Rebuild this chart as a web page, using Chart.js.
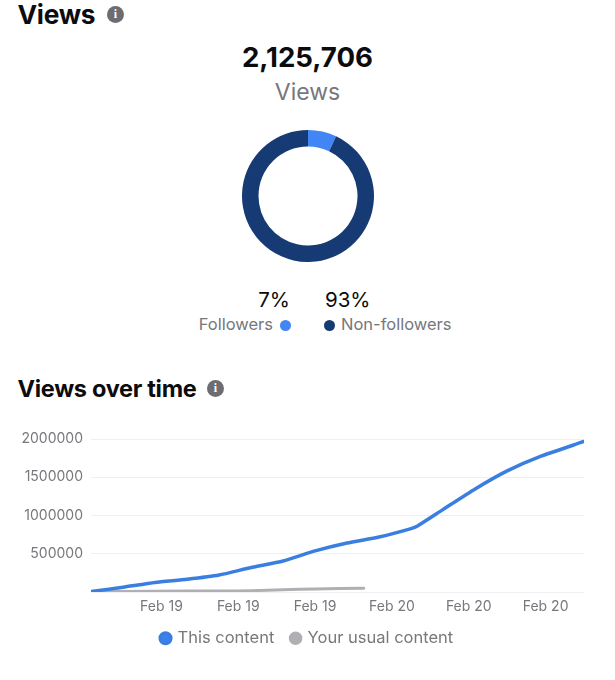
<!DOCTYPE html>
<html>
<head>
<meta charset="utf-8">
<script src="https://cdn.jsdelivr.net/npm/chart.js@4"></script>
<style>
html,body{margin:0;padding:0;background:#fff;width:615px;height:680px;overflow:hidden;font-family:Inter,"Noto Sans",sans-serif}
.t{position:absolute;white-space:nowrap;line-height:1}
.title{font-weight:700;color:#0c0c0e;letter-spacing:-.3px}
.grey{color:#77777c}
.info{position:absolute;width:17px;height:17px;border-radius:50%;background:#6d6d71;color:#fff;font:700 12px/17px "Liberation Serif",serif;text-align:center}
.dot{position:absolute;width:11px;height:11px;border-radius:50%}
canvas{position:absolute}
</style>
</head>
<body>
<div class="t title" style="left:17.5px;top:2px;font-size:26.3px">Views</div>
<div class="info" style="left:107px;top:6px">i</div>
<div class="t" style="left:0;width:615px;text-align:center;top:44px;font-size:27.6px;font-weight:700;color:#0c0c0e">2,125,706</div>
<div class="t grey" style="left:0;width:615px;text-align:center;top:81px;font-size:23px">Views</div>

<canvas id="donut" width="132" height="132" style="left:241.5px;top:130px;width:132px;height:132px"></canvas>

<div class="t" style="right:325px;top:290px;font-size:20.5px;color:#0c0c0e">7%</div>
<div class="t" style="left:325px;top:290px;font-size:20.5px;color:#0c0c0e">93%</div>
<div class="t grey" style="right:342px;top:316px;font-size:16.5px">Followers</div>
<div class="dot" style="left:280px;top:320px;background:#4285f4"></div>
<div class="dot" style="left:324px;top:320px;background:#163a74"></div>
<div class="t grey" style="left:341px;top:316px;font-size:16.5px">Non-followers</div>

<div class="t title" style="left:17.5px;top:377px;font-size:23.5px">Views over time</div>
<div class="info" style="left:207px;top:380px">i</div>

<canvas id="line" width="615" height="250" style="left:0;top:420px;width:615px;height:250px"></canvas>

<script>
const shareLabels = ["Followers", "Non-followers"];
const shareValues = [7, 93];
const shareColors = ["#4285f4", "#163a74"];

const hoursThis = [0, 5, 10, 15, 20, 25, 30, 35, 40, 45, 50, 51, 55, 60, 65, 70, 77];
const thisContent = [5000, 62000, 124000, 166000, 222000, 320000, 405000, 537000, 640000, 720000, 829000, 864000, 1080000, 1348000, 1584000, 1767000, 1967000];
const hoursUsual = [0, 10, 20, 25, 30, 35, 42.6];
const usualContent = [3000, 10000, 13000, 17000, 30000, 40000, 48000];
const tickHours = [11, 23, 35, 47, 59, 71];
const tickLabels = ["Feb 19", "Feb 19", "Feb 19", "Feb 20", "Feb 20", "Feb 20"];
const seriesNames = ["This content", "Your usual content"];
const font = "Inter";

new Chart(document.getElementById("donut"), {
  type: "doughnut",
  data: { labels: shareLabels, datasets: [{ data: shareValues, backgroundColor: shareColors, borderWidth: 0 }] },
  options: { responsive: false, animation: false, cutout: "75%", plugins: { legend: { display: false }, tooltip: { enabled: false } } }
});

const toPts = (xs, ys) => xs.map((x, i) => ({ x, y: ys[i] }));

new Chart(document.getElementById("line"), {
  type: "line",
  data: { datasets: [
    { label: seriesNames[0], data: toPts(hoursThis, thisContent), borderColor: "#3a7fe0", backgroundColor: "#3b82f0", borderWidth: 3.5, pointRadius: 0, tension: 0.2, borderCapStyle: "round" },
    { label: seriesNames[1], data: toPts(hoursUsual, usualContent), borderColor: "#b0b0b4", backgroundColor: "#b0b0b4", borderWidth: 3, pointRadius: 0, tension: 0.2, borderCapStyle: "round" }
  ] },
  options: {
    responsive: false, animation: false,
    layout: { padding: { top: 19, right: 0, left: 0, bottom: 13.5 } },
    plugins: {
      tooltip: { enabled: false },
      legend: { position: "bottom", labels: { usePointStyle: true, pointStyle: "circle", boxWidth: 7.5, boxHeight: 7.5, padding: 17.5, color: "#77777c", font: { family: font, size: 16.5 } } }
    },
    scales: {
      x: {
        type: "linear", min: 0, max: 77,
        grid: { display: false }, border: { display: false },
        afterBuildTicks: a => { a.ticks = tickHours.map(v => ({ value: v })); },
        afterFit: a => { a.height = 20.5; },
        ticks: { autoSkip: false, maxRotation: 0, padding: -2, color: "#77777c", font: { family: font, size: 14 },
          callback: v => tickLabels[tickHours.indexOf(v)] }
      },
      y: {
        min: 0, max: 2000000,
        afterFit: a => { a.width = 91; },
        grid: { color: "#eeeff2", lineWidth: 1, drawTicks: false }, border: { display: false },
        ticks: { stepSize: 500000, padding: 8, color: "#77777c", font: { family: font, size: 14 },
          callback: v => v === 0 ? "" : String(v) }
      },
      gutter: {
        position: "right", min: 0, max: 1,
        afterFit: a => { a.width = 31; },
        grid: { display: false }, border: { display: false },
        ticks: { callback: () => "" }
      }
    }
  }
});
</script>
</body>
</html>
